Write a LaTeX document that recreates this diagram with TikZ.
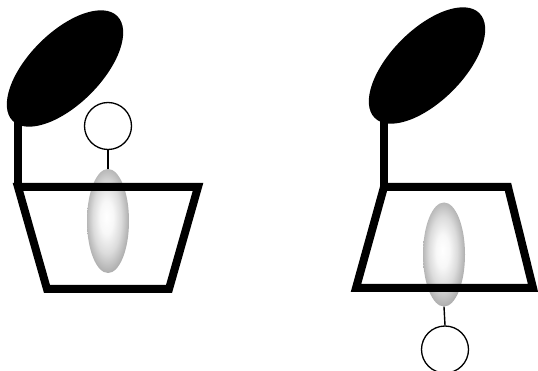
\documentclass[tikz,border=0pt]{standalone}
\usepackage{tikz}
\usetikzlibrary{shapes.geometric,positioning}

\pgfdeclareradialshading{beadshade}{\pgfpoint{-2bp}{2bp}}{%
  color(0bp)=(white); color(8bp)=(white!97!black);
  color(17bp)=(black!14); color(25bp)=(black!30);
  color(32bp)=(black!46); color(50bp)=(black!52)}

\begin{document}
\begin{tikzpicture}[
  x=1pt, y=-1pt,
  frame/.style={line width=8pt, line join=miter},
  head/.style={fill=black},
  bead/.style={ellipse, draw=none, inner sep=0pt,
               minimum width=42pt, minimum height=104pt,
               shading=beadshade},
  ring/.style={circle, draw, line width=1.3pt, fill=white,
               inner sep=0pt, minimum size=47pt},
  tether/.style={line width=1.4pt}
]
\useasboundingbox (0,0) rectangle (538,371);
% left: bead inside, ring above
\node[bead] (beadL) at (108,221) {};
\node[ring] (ringL) at (108,126) {};
\draw[tether] (ringL.south) -- (beadL.north);
\draw[frame] (18,110) -- (18,187);
\draw[frame] (18,187) -- (198,187) -- (169,289) -- (47,289) -- cycle;
\fill[head, rotate around={45:(65,68.5)}] (65,68.5) ellipse [x radius=74, y radius=36];
% right: bead through the bottom, ring below
\node[bead] (beadR) at (444,254.5) {};
\node[ring] (ringR) at (445,349.5) {};
\draw[tether] (beadR.south) -- (ringR.north);
\draw[frame] (384,110) -- (384,187);
\draw[frame] (384,187) -- (508,187) -- (533,288) -- (356,288) -- cycle;
\fill[head, rotate around={45:(427,65.5)}] (427,65.5) ellipse [x radius=74, y radius=36];
\end{tikzpicture}
\end{document}
